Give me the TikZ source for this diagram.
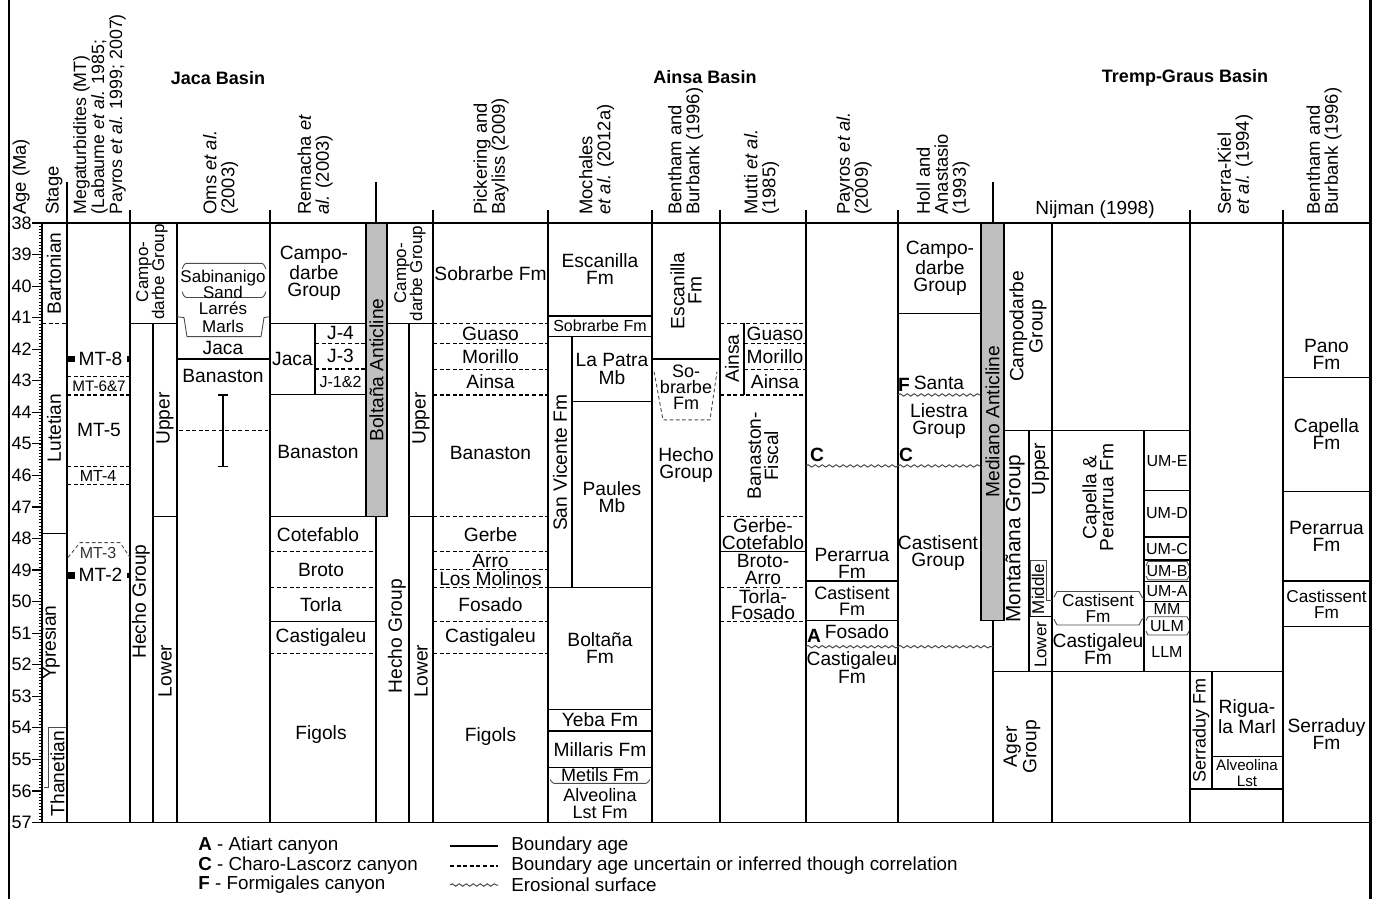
\documentclass[tikz,border=0pt]{standalone}
\usepackage{fontspec}
\setmainfont{Liberation Sans}
\usetikzlibrary{decorations.pathmorphing}

\begin{document}
\begin{tikzpicture}[x=0.5pt, y=-0.5pt,
        lab/.style={font=\fontsize{9.6}{8.6}\selectfont, align=center, inner sep=0pt},
        sml/.style={lab, font=\fontsize{8}{7.6}\selectfont},
        rot/.style={lab, rotate=90},
        hdr/.style={lab, rotate=90, anchor=west, align=left, font=\fontsize{9.2}{9}\selectfont},
        basin/.style={lab, font=\bfseries\fontsize{9}{10}\selectfont},
        canyon/.style={lab, font=\bfseries\fontsize{9.6}{10}\selectfont},
        leg/.style={lab, anchor=west, font=\fontsize{9.4}{10}\selectfont},
        agel/.style={lab, anchor=east, font=\fontsize{9}{10}\selectfont},
        bnd/.style={line width=0.6pt},
        unc/.style={line width=0.6pt, dash pattern=on 2pt off 1.3pt},
        eros/.style={gray!60!black, line width=0.5pt, decorate, decoration={snake, amplitude=0.6pt, segment length=3.5pt}},
        brk/.style={gray!60!black, line width=0.45pt},
        brkdash/.style={brk, dash pattern=on 1.8pt off 1.3pt},
        bar/.style={draw, line width=0.6pt, fill=black!25},
    ]
    \useasboundingbox (0,0) rectangle (1382,899);

    % frame and header
    \draw[line width=1pt] (9,0) -- (9,899);
    \draw[line width=1.2pt] (1370.5,0) -- (1370.5,899);
    \foreach \x in {67,376,993} \draw[bnd] (\x,182) -- (\x,223);
    \foreach \x in {130,270,433,548,652,720,806,898,1190,1283} \draw[bnd] (\x,210) -- (\x,223);

    \node[basin] (jaca) at (218,78) {Jaca Basin};
    \node[basin] (ainsa) at (705,77) {Ainsa Basin};
    \node[basin] (tremp) at (1185,78) {Tremp-Graus Basin};

    \node[hdr] (hage) at (21,215) {Age (Ma)};
    \node[hdr] (hstage) at (54,215) {Stage};
    \node[hdr, font=\fontsize{8.9}{9}\selectfont] (hmt) at (99.5,215) {Megaturbidites (MT)\\(Labaume \textit{et al.} 1985;\\Payros \textit{et al.} 1999; 2007)};
    \node[hdr] (homs) at (220.5,215) {Oms \textit{et al.}\\(2003)};
    \node[hdr] (hrem) at (315,215) {Remacha \textit{et}\\\textit{al.} (2003)};
    \node[hdr] (hpick) at (491,215) {Pickering and\\Bayliss (2009)};
    \node[hdr] (hmoch) at (596.5,215) {Mochales\\\textit{et al.} (2012a)};
    \node[hdr] (hbent) at (685.5,215) {Bentham and\\Burbank (1996)};
    \node[hdr] (hmutti) at (761.5,215) {Mutti \textit{et al.}\\(1985)};
    \node[hdr] (hpay) at (854,215) {Payros \textit{et al.}\\(2009)};
    \node[hdr] (hholl) at (943,215) {Holl and\\Anastasio\\(1993)};
    \node[lab, font=\fontsize{9.5}{9}\selectfont] (hnij) at (1095,210) {Nijman (1998)};
    \node[hdr] (hserra) at (1235,215) {Serra-Kiel\\\textit{et al.} (1994)};
    \node[hdr] (hbb) at (1324,215) {Bentham and\\Burbank (1996)};

    \begin{scope}[yshift=487.95pt, y=-15.775pt]
    % age scale
    \foreach \i in {1,...,189} \draw[line width=0.35pt] (38.5,{38+\i/10}) -- (42,{38+\i/10});
    \foreach \a in {38,...,57} {
        \draw[bnd] (32,\a) -- (42,\a);
        \node[agel] (age\a) at (32,\a) {\a};
    }
    \draw[bnd] (40,38) -- (1370,38);
    \draw[bnd] (40,57) -- (1370,57);
    \foreach \x in {42,67,130,177,270,376,433,548,652,720,806,898,993,1052,1190,1283} \draw[bnd] (\x,38) -- (\x,57);
    \draw[bnd] (153,41.18) -- (153,57);
    \draw[bnd] (409,41.18) -- (409,57);
    \draw[bnd] (315,41.18) -- (315,43.43);
    \draw[bnd] (572,41.6) -- (572,49.55);
    \draw[bnd] (744,41.18) -- (744,43.45);
    \draw[bnd] (1029,44.58) -- (1029,52.22);
    \draw[bnd] (1144,44.58) -- (1144,52.22);
    \draw[bnd] (1212,52.22) -- (1212,55.94);

    % stages
    \draw[unc] (42,41.18) -- (67,41.18);
    \draw[bnd] (42,47.83) -- (67,47.83);
    \draw[brk] (66,54.0) -- (48,54.0) -- (48,55.9) -- (44,55.9);
    \node[rot] (bart) at (54,39.6) {Bartonian};
    \node[rot] (lute) at (54,44.5) {Lutetian};
    \node[rot] (ypre) at (51,51.3) {Ypresian};
    \node[rot] (than) at (57.5,55.45) {Thanetian};

    % megaturbidites
    \foreach \a in {42.87,43.45,45.72,46.3} \draw[unc] (67,\a) -- (130,\a);
    \fill (67,42.2) rectangle (75,42.41);
    \fill (127,42.22) rectangle (130,42.39);
    \fill (67,49.06) rectangle (75,49.27);
    \fill (127,49.08) rectangle (130,49.25);
    \draw[brkdash] (68,48.6) -- (80,48.13) -- (120,48.13) -- (130,48.6);
    \node[lab] (mt8) at (100.5,42.3) {MT-8};
    \node[sml, font=\fontsize{7.6}{8}\selectfont] (mt67) at (99,43.16) {MT-6\&7};
    \node[lab] (mt5) at (99,44.56) {MT-5};
    \node[sml] (mt4) at (98,46.01) {MT-4};
    \node[sml, text=gray!40!black] (mt3) at (98,48.45) {MT-3};
    \node[lab] (mt2) at (100.5,49.16) {MT-2};

    % Jaca: groups
    \draw[bnd] (130,41.18) -- (177,41.18);
    \draw[bnd] (153,47.31) -- (177,47.31);
    \node[rot, font=\fontsize{8.5}{8}\selectfont] (jcampo) at (152,39.55) {Campo-\\darbe Group};
    \node[rot] (jhecho) at (141,50.0) {Hecho Group};
    \node[rot] (jupper) at (165,44.2) {Upper};
    \node[rot] (jlower) at (165,52.2) {Lower};

    % Oms et al.
    \draw[brk] (182,39.43) to[out=-90,in=180] (186,39.28) -- (262,39.28) to[out=0,in=-90] (266,39.43);
    \draw[brk] (182,40.2) to[out=90,in=180] (186,40.36) -- (262,40.36) to[out=0,in=90] (266,40.2);
    \draw[brk] (177,40.97) -- (184,41.0) -- (187,41.6) -- (261,41.6) -- (264,41.0) -- (269,40.97);
    \draw[bnd] (177,42.31) -- (270,42.31);
    \draw[unc] (179,44.58) -- (268,44.58);
    \draw[bnd] (223,43.45) -- (223,45.72);
    \draw[bnd] (218,43.45) -- (228,43.45);
    \draw[bnd] (218,45.72) -- (228,45.72);
    \node[lab, font=\fontsize{8.5}{8.2}\selectfont] (omssab) at (223,39.95) {Sabinanigo\\Sand};
    \node[sml, font=\fontsize{8.5}{8}\selectfont] (omslar) at (223,40.7) {Larrés};
    \node[sml, font=\fontsize{8.5}{8}\selectfont] (omsmar) at (223,41.29) {Marls};
    \node[lab] (omsjaca) at (223,41.97) {Jaca};
    \node[lab] (omsban) at (223,42.84) {Banaston};

    % Remacha et al.
    \draw[bnd] (270,41.18) -- (366,41.18);
    \draw[unc] (315,41.81) -- (366,41.81);
    \draw[unc] (315,42.63) -- (366,42.63);
    \draw[bnd] (270,43.43) -- (366,43.43);
    \draw[bnd] (270,47.31) -- (366,47.31);
    \draw[unc] (270,48.42) -- (376,48.42);
    \draw[unc] (270,49.56) -- (376,49.56);
    \draw[bnd] (270,50.62) -- (376,50.62);
    \draw[unc] (270,51.64) -- (376,51.64);
    \node[lab] (remcampo) at (314,39.6) {Campo-\\darbe\\Group};
    \node[lab] (remjaca) at (292.5,42.3) {Jaca};
    \node[lab] (remj4) at (340.5,41.5) {J-4};
    \node[lab] (remj3) at (340.5,42.22) {J-3};
    \node[sml] (remj12) at (340.5,43.03) {J-1\&2};
    \node[lab] (remban) at (318,45.25) {Banaston};
    \node[lab] (remcote) at (318,47.87) {Cotefablo};
    \node[lab] (rembroto) at (321,48.99) {Broto};
    \node[lab] (remtorla) at (321,50.09) {Torla};
    \node[lab] (remcast) at (321,51.13) {Castigaleu};
    \node[lab] (remfig) at (321,54.2) {Figols};

    % Ainsa: groups
    \draw[bnd] (387,41.18) -- (433,41.18);
    \draw[bnd] (409,47.31) -- (433,47.31);
    \node[rot, font=\fontsize{8.5}{8}\selectfont] (acampo) at (410,39.6) {Campo-\\darbe Group};
    \node[rot] (ahecho) at (397,51.1) {Hecho Group};
    \node[rot] (aupper) at (421,44.2) {Upper};
    \node[rot] (alower) at (421,52.2) {Lower};

    % Pickering and Bayliss
    \foreach \a in {41.18,41.81,42.64,43.45,47.31,48.42,48.98,49.55,50.64,51.64} \draw[unc] (433,\a) -- (548,\a);
    \node[lab] (picksob) at (490.5,39.6) {Sobrarbe Fm};
    \node[lab] (pickguaso) at (490.5,41.5) {Guaso};
    \node[lab] (pickmor) at (490.5,42.22) {Morillo};
    \node[lab] (pickainsa) at (490.5,43.04) {Ainsa};
    \node[lab] (pickban) at (490.5,45.3) {Banaston};
    \node[lab] (pickgerbe) at (490.5,47.87) {Gerbe};
    \node[lab] (pickarro) at (490.5,48.7) {Arro};
    \node[lab] (pickmol) at (490.5,49.27) {Los Molinos};
    \node[lab] (pickfos) at (490.5,50.1) {Fosado};
    \node[lab] (pickcast) at (490.5,51.14) {Castigaleu};
    \node[lab] (pickfig) at (490.5,54.28) {Figols};

    % Mochales et al.
    \foreach \a in {40.95,41.6,49.55,53.41,54.1,55.26} \draw[bnd] (548,\a) -- (652,\a);
    \draw[bnd] (572,43.66) -- (652,43.66);
    \draw[brk] (550,55.66) to[out=90,in=180] (554,55.76) -- (646,55.76) to[out=0,in=90] (650,55.66);
    \node[lab] (mochesc) at (600,39.45) {Escanilla\\Fm};
    \node[sml] (mochsob) at (600,41.27) {Sobrarbe Fm};
    \node[rot] (mochvic) at (560,45.6) {San Vicente Fm};
    \node[lab] (mochpatra) at (612,42.63) {La Patra\\Mb};
    \node[lab] (mochpaul) at (612,46.7) {Paules\\Mb};
    \node[lab] (mochbolt) at (600,51.48) {Boltaña\\Fm};
    \node[lab] (mochyeba) at (600,53.75) {Yeba Fm};
    \node[lab] (mochmill) at (600,54.68) {Millaris Fm};
    \node[lab, font=\fontsize{9}{8}\selectfont] (mochmet) at (600,55.5) {Metils Fm};
    \node[lab, font=\fontsize{9}{8.2}\selectfont] (mochalv) at (600,56.4) {Alveolina\\Lst Fm};

    % Bentham and Burbank (Ainsa)
    \draw[bnd] (652,42.31) -- (720,42.31);
    \draw[brkdash] (654,42.71) -- (663,44.24) -- (710,44.24) -- (717,42.71);
    \node[rot] (bentesc) at (686,40.15) {Escanilla\\Fm};
    \node[lab, font=\fontsize{9}{7.9}\selectfont] (bentsob) at (686,43.2) {So-\\brarbe\\Fm};
    \node[lab] (benthecho) at (686,45.67) {Hecho\\Group};

    % Mutti et al.
    \draw[unc] (720,41.18) -- (806,41.18);
    \draw[unc] (744,41.81) -- (806,41.81);
    \draw[unc] (744,42.64) -- (806,42.64);
    \foreach \a in {43.45,47.31,49.55,50.64} \draw[unc] (720,\a) -- (806,\a);
    \draw[bnd] (720,48.42) -- (806,48.42);
    \node[rot] (mutainsa) at (732,42.3) {Ainsa};
    \node[lab] (mutguaso) at (775,41.5) {Guaso};
    \node[lab] (mutmor) at (775,42.22) {Morillo};
    \node[lab] (mutainsb) at (775,43.04) {Ainsa};
    \node[rot] (mutban) at (763,45.38) {Banaston-\\Fiscal};
    \node[lab, font=\fontsize{9.6}{8.3}\selectfont] (mutgerbe) at (763,47.87) {Gerbe-\\Cotefablo};
    \node[lab, font=\fontsize{9.6}{8.3}\selectfont] (mutbroto) at (763,48.99) {Broto-\\Arro};
    \node[lab, font=\fontsize{9.6}{8.3}\selectfont] (muttorla) at (763,50.1) {Torla-\\Fosado};

    % Payros et al.
    \draw[eros] (806,45.7) -- (898,45.7);
    \draw[bnd] (806,49.35) -- (898,49.35);
    \draw[bnd] (806,50.6) -- (898,50.6);
    \draw[eros] (806,51.43) -- (898,51.43);
    \node[canyon] (payc) at (817,45.35) {C};
    \node[lab] (payper) at (852,48.78) {Perarrua\\Fm};
    \node[lab, font=\fontsize{9}{8.2}\selectfont] (paycasti) at (852,49.98) {Castisent\\Fm};
    \node[canyon] (paya) at (814,51.1) {A};
    \node[lab] (payfos) at (857,50.95) {Fosado};
    \node[lab] (paycast) at (852,52.09) {Castigaleu\\Fm};

    % Holl and Anastasio
    \draw[bnd] (898,40.86) -- (981,40.86);
    \draw[eros] (898,43.45) -- (981,43.45);
    \draw[eros] (898,45.7) -- (981,45.7);
    \draw[eros] (898,51.43) -- (993,51.43);
    \node[lab] (hollcampo) at (940,39.43) {Campo-\\darbe\\Group};
    \node[canyon] (hollf) at (904,43.12) {F};
    \node[lab] (hollsanta) at (939,43.07) {Santa};
    \node[lab] (hollliestra) at (939,44.27) {Liestra\\Group};
    \node[canyon] (hollc) at (906,45.35) {C};
    \node[lab] (hollcast) at (938,48.46) {Castisent\\Group};

    % Nijman
    \draw[bnd] (1004,44.58) -- (1190,44.58);
    \draw[bnd] (993,52.22) -- (1190,52.22);
    \draw[bnd] (1029,50.48) -- (1052,50.48);
    \foreach \a in {46.48,47.95,48.68,49.36,50.0} \draw[bnd] (1144,\a) -- (1190,\a);
    \draw[brk] (1146,48.86) -- (1148,48.73) -- (1187,48.73) -- (1189,48.86);
    \draw[brk] (1146,49.19) -- (1148,49.31) -- (1187,49.31) -- (1189,49.19);
    \draw[brk] (1146,50.6) -- (1148,50.48) -- (1187,50.48) -- (1189,50.6);
    \draw[brk] (1146,50.94) -- (1148,51.06) -- (1187,51.06) -- (1189,50.94);
    \draw[brk] (1030,50.47) -- (1030,48.71) -- (1046,48.71) -- (1046,49.95) -- (1052,49.95);
    \draw[brk] (1054,49.86) -- (1057,49.68) -- (1139,49.68) -- (1142,49.86) -- (1144,49.9);
    \draw[brk] (1054,50.56) -- (1057,50.74) -- (1139,50.74) -- (1142,50.56) -- (1144,50.52);
    \node[rot] (nijcampo) at (1028,41.28) {Campodarbe\\Group};
    \node[rot, font=\fontsize{10.4}{9}\selectfont] (nijmont) at (1015,48.0) {Montañana Group};
    \node[rot] (nijupper) at (1040.5,45.8) {Upper};
    \node[rot, font=\fontsize{8.5}{8}\selectfont] (nijmid) at (1038,49.6) {Middle};
    \node[rot, font=\fontsize{8.5}{8}\selectfont] (nijlow) at (1040.5,51.37) {Lower};
    \node[rot] (nijcap) at (1098,46.7) {Capella \&\\Perarrua Fm};
    \node[sml, font=\fontsize{8.6}{8}\selectfont] (nijcasti) at (1098,50.2) {Castisent\\Fm};
    \node[lab] (nijcastig) at (1098,51.5) {Castigaleu\\Fm};
    \node[rot] (nijager) at (1022,54.6) {Ager\\Group};
    \node[sml] (nijume) at (1167,45.55) {UM-E};
    \node[sml] (nijumd) at (1167,47.2) {UM-D};
    \node[sml] (nijumc) at (1167,48.32) {UM-C};
    \node[sml] (nijumb) at (1167,49.02) {UM-B};
    \node[sml] (nijuma) at (1167,49.68) {UM-A};
    \node[sml] (nijmm) at (1167,50.25) {MM};
    \node[sml] (nijulm) at (1167,50.77) {ULM};
    \node[sml] (nijllm) at (1167,51.6) {LLM};

    % Serra-Kiel et al.
    \draw[bnd] (1190,52.22) -- (1283,52.22);
    \draw[bnd] (1212,54.92) -- (1283,54.92);
    \draw[bnd] (1190,55.94) -- (1283,55.94);
    \node[rot, font=\fontsize{9}{8}\selectfont] (serraduy) at (1201,54.08) {Serraduy Fm};
    \node[lab] (serrarig) at (1247,53.65) {Rigua-\\la Marl};
    \node[sml, font=\fontsize{7.6}{8}\selectfont] (serraalv) at (1247,55.43) {Alveolina\\Lst};

    % Bentham and Burbank (Tremp-Graus)
    \foreach \a in {42.89,46.52,49.35,50.8} \draw[bnd] (1283,\a) -- (1370,\a);
    \node[lab] (bbpano) at (1326.5,42.16) {Pano\\Fm};
    \node[lab] (bbcap) at (1326.5,44.69) {Capella\\Fm};
    \node[lab] (bbper) at (1326.5,47.94) {Perarrua\\Fm};
    \node[lab, font=\fontsize{8.6}{8}\selectfont] (bbcast) at (1326.5,50.1) {Castissent\\Fm};
    \node[lab] (bbserr) at (1326.5,54.2) {Serraduy\\Fm};

    % anticlines
    \draw[bar] (366,38) rectangle (387,47.31);
    \draw[bar] (981,38) rectangle (1004,50.6);
    \node[rot] (bolt) at (376.5,42.66) {Boltaña Anticline};
    \node[rot] (medi) at (992.5,44.3) {Mediano Anticline};
    \end{scope}

    % legend
    \node[leg] (lega) at (198,846) {\textbf{A} - Atiart canyon};
    \node[leg] (legc) at (198,866) {\textbf{C} - Charo-Lascorz canyon};
    \node[leg] (legf) at (198,885) {\textbf{F} - Formigales canyon};
    \coordinate (solA) at (450,846);
    \coordinate (solB) at (498,846);
    \coordinate (dasA) at (450,866);
    \coordinate (dasB) at (498,866);
    \coordinate (eroA) at (450,885);
    \coordinate (eroB) at (498,885);
    \draw[bnd] (solA) -- (solB);
    \draw[unc] (dasA) -- (dasB);
    \draw[eros] (eroA) -- (eroB);
    \node[leg] (legsol) at (511,846) {Boundary age};
    \node[leg] (legdas) at (511,866) {Boundary age uncertain or inferred though correlation};
    \node[leg] (legero) at (511,885) {Erosional surface};
\end{tikzpicture}
\end{document}
